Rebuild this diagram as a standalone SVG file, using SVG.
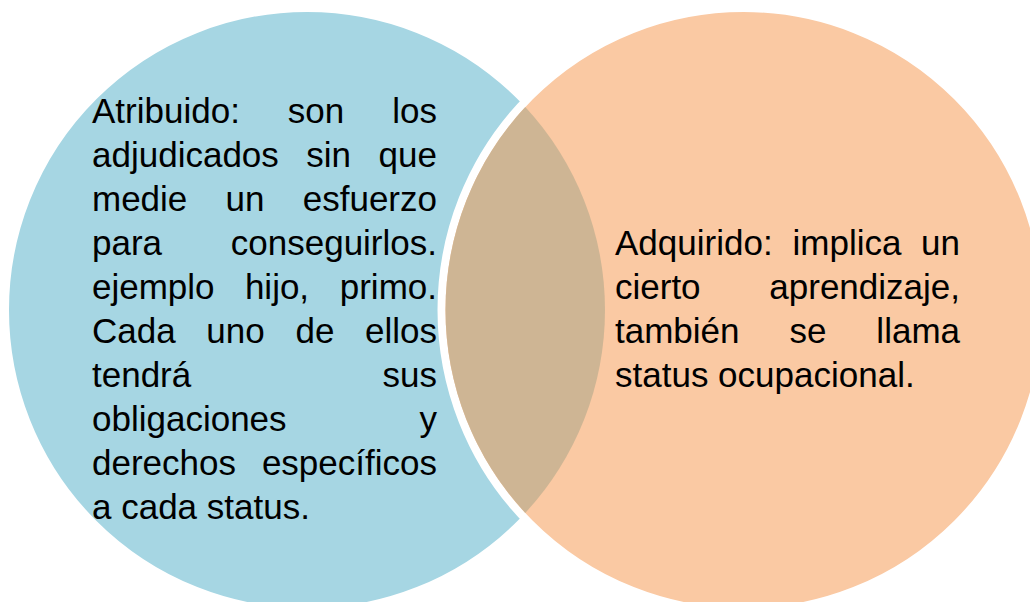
<svg xmlns="http://www.w3.org/2000/svg" width="1030" height="602" viewBox="0 0 1030 602">
  <style>
    .circle { stroke: #ffffff; stroke-width: 8; }
    .blue { fill: #A6D6E3; }
    .orange { fill: #FAC9A3; }
    .tan { fill: #CEB594; }
    text { font-family: "Liberation Sans", Arial, sans-serif; font-size: 35px; fill: #000000; }
    .m { text-anchor: middle; }
    .e { text-anchor: end; }
  </style>
  <rect width="1030" height="602" fill="#ffffff"/>
  <g id="circle-atribuido">
    <circle class="circle blue" cx="307" cy="310" r="302"/>
  </g>
  <g id="circle-adquirido">
    <circle class="circle orange" cx="743.5" cy="310" r="302"/>
  </g>
  <g id="overlap">
    <path class="tan" d="M 525.25 107.1 A 298 298 0 0 1 525.25 512.9 A 298 298 0 0 1 525.25 107.1 Z"/>
  </g>
  <g id="text-atribuido">
    <text x="92" y="123">Atribuido:</text>
    <text class="m" x="316" y="123">son</text>
    <text class="e" x="437" y="123">los</text>

    <text x="92" y="167">adjudicados</text>
    <text class="m" x="328.6" y="167">sin</text>
    <text class="e" x="437" y="167">que</text>

    <text x="92" y="211">medie</text>
    <text class="m" x="245" y="211">un</text>
    <text class="e" x="437" y="211">esfuerzo</text>

    <text x="92" y="255">para</text>
    <text class="e" x="437" y="255">conseguirlos.</text>

    <text x="92" y="299">ejemplo</text>
    <text class="m" x="277" y="299">hijo,</text>
    <text class="e" x="437" y="299">primo.</text>

    <text x="92" y="343">Cada</text>
    <text class="m" x="235.5" y="343">uno</text>
    <text class="m" x="315" y="343">de</text>
    <text class="e" x="437" y="343">ellos</text>

    <text x="92" y="387">tendrá</text>
    <text class="e" x="437" y="387">sus</text>

    <text x="92" y="431">obligaciones</text>
    <text class="e" x="437" y="431">y</text>

    <text x="92" y="475">derechos</text>
    <text class="e" x="437" y="475">específicos</text>

    <text x="92" y="519">a cada status.</text>
  </g>
  <g id="text-adquirido">
    <text x="615" y="255">Adquirido:</text>
    <text class="m" x="847" y="255">implica</text>
    <text class="e" x="960" y="255">un</text>

    <text x="615" y="299">cierto</text>
    <text class="e" x="960" y="299">aprendizaje,</text>

    <text x="615" y="343">también</text>
    <text class="m" x="808" y="343">se</text>
    <text class="e" x="960" y="343">llama</text>

    <text x="615" y="387">status ocupacional.</text>
  </g>
  <g id="connectors"/>
</svg>
